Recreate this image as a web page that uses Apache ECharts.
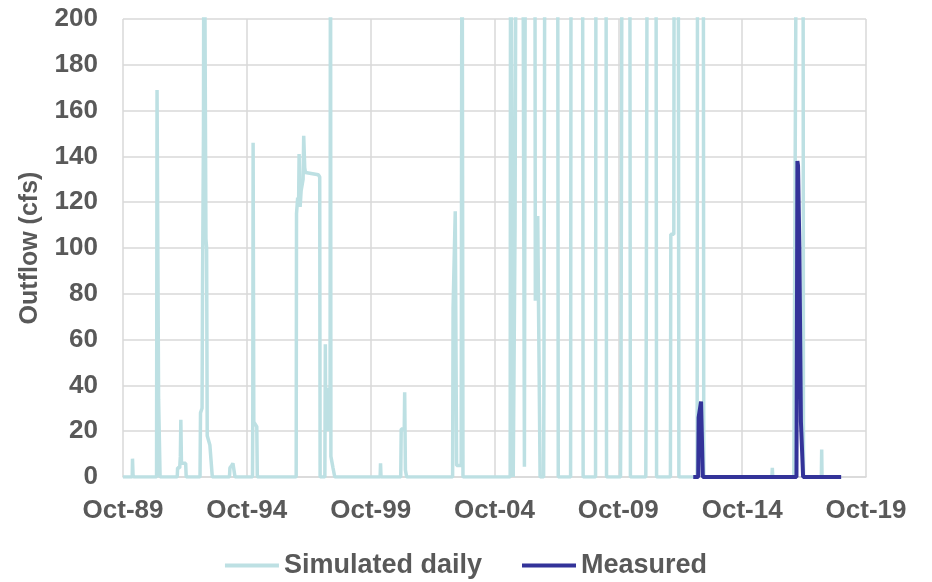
<!DOCTYPE html>
<html>
<head>
<meta charset="utf-8">
<script src="https://cdn.jsdelivr.net/npm/echarts@6/dist/echarts.min.js"></script>
<style>
html,body{margin:0;padding:0;background:#fff;}
#chart{width:932px;height:582px;}
</style>
</head>
<body>
<div id="chart"></div>
<script>
// X tick labels (every 5 years from Oct-89)
const xTickLabels = ['Oct-89','Oct-94','Oct-99','Oct-04','Oct-09','Oct-14','Oct-19'];
const yTicks = [0,20,40,60,80,100,120,140,160,180,200];

// Simulated daily outflow (cfs); values of 300 stand for peaks that run off the top of the chart
const simulated = [
  ['1989-10-01',0],
  ['1990-02-14',0],['1990-02-18',8],['1990-02-26',1],['1990-03-05',0],
  ['1991-02-08',0],['1991-02-15',169],['1991-03-10',34],['1991-03-25',34],['1991-04-01',0],
  ['1991-12-10',0],['1991-12-15',4],['1992-01-15',4],['1992-01-25',9],['1992-02-01',25],['1992-02-10',6],['1992-04-12',6],['1992-04-20',0],
  ['1992-11-10',0],['1992-11-17',28],['1992-12-10',30],['1992-12-17',83],['1992-12-31',152],['1993-01-08',300],['1993-01-25',300],['1993-02-05',104],['1993-02-15',100],['1993-02-24',18],['1993-04-04',14],['1993-05-10',0],
  ['1994-01-18',0],['1994-01-25',4],['1994-02-20',5],['1994-03-10',6],['1994-04-01',6],['1994-04-10',0],
  ['1994-12-24',0],['1994-12-28',27],['1995-01-02',146],['1995-01-12',24],['1995-02-25',22],['1995-03-05',0],
  ['1996-09-28',0],['1996-10-03',115],['1996-10-20',122],['1996-11-03',120],['1996-11-10',141],['1996-11-25',118],['1996-12-10',125],['1997-01-08',130],['1997-01-17',149],['1997-02-01',135],['1997-02-12',133],['1997-08-20',132],['1997-09-10',131],['1997-09-16',0],
  ['1997-11-25',0],['1997-12-02',58],['1997-12-08',20],['1997-12-20',27],['1998-01-10',39],['1998-01-25',20],['1998-02-10',40],['1998-02-16',300],['1998-02-22',9],['1998-03-10',9],['1998-03-25',4],['1998-04-10',4],['1998-04-20',0],
  ['2000-02-18',0],['2000-02-24',6],['2000-03-02',0],
  ['2000-12-18',0],['2000-12-25',21],['2001-02-08',21],['2001-02-14',37],['2001-02-25',3],['2001-03-15',0],
  ['2003-01-22',0],['2003-01-29',74],['2003-02-12',74],['2003-03-02',116],['2003-03-22',5],['2003-05-28',5],['2003-06-10',300],['2003-06-24',0],
  ['2005-05-20',0],['2005-05-26',300],['2005-06-24',300],['2005-07-04',0],
  ['2005-07-25',0],['2005-07-31',110],['2005-08-18',300],['2005-11-20',300],['2005-12-16',4.5],
  ['2006-01-01',300],['2006-05-18',300],['2006-05-26',77],['2006-06-30',114],['2006-08-04',0],
  ['2006-09-25',0],['2006-09-30',44],['2006-10-16',300],['2007-04-19',300],['2007-04-29',0],
  ['2007-10-28',0],['2007-11-05',300],['2008-04-20',300],['2008-04-30',0],
  ['2008-10-30',0],['2008-11-06',300],['2009-04-01',300],['2009-04-10',0],
  ['2009-11-02',0],['2009-11-09',35],['2009-11-28',300],['2010-03-18',300],['2010-03-28',0],
  ['2010-11-10',0],['2010-11-16',54],['2010-12-04',300],['2011-04-08',300],['2011-04-18',0],
  ['2011-11-08',0],['2011-11-14',106],['2011-12-28',106],['2012-01-04',300],['2012-03-01',300],['2012-03-12',0],
  ['2012-12-06',0],['2012-12-13',300],['2013-03-06',300],['2013-03-14',0],
  ['2015-12-14',0],['2015-12-20',4],['2015-12-26',0],
  ['2016-11-01',0],['2016-11-05',30],['2016-11-28',30],['2016-12-15',300],['2017-03-16',300],['2017-03-24',0],
  ['2017-12-12',0],['2017-12-17',12],['2017-12-22',0],
  ['2018-09-30',0]
];

// Measured outflow (cfs)
const measured = [
  ['2012-10-10',0],['2012-12-22',0],['2012-12-28',26],['2013-01-20',26],['2013-02-02',33],['2013-02-28',0],
  ['2016-12-10',0],['2016-12-24',138],['2017-01-02',136],['2017-01-22',100],['2017-02-05',100],['2017-02-14',24],['2017-03-10',24],['2017-03-18',0],
  ['2018-09-30',0]
];

const ORIGIN = Date.UTC(1989, 9, 1);
const YEAR_MS = 365.25 * 86400000;
function toYears(s) {
  const p = s.split('-').map(Number);
  return (Date.UTC(p[0], p[1] - 1, p[2]) - ORIGIN) / YEAR_MS;
}
const toData = arr => arr.map(d => [toYears(d[0]), d[1]]);

const FONT = '"Liberation Sans", Arial, sans-serif';
const GREY = '#595959';
const GRID = '#d9d9d9';

const chart = echarts.init(document.getElementById('chart'), null, {renderer: 'canvas'});
chart.setOption({
  animation: false,
  backgroundColor: '#ffffff',
  grid: {left: 123, right: 66, top: 19, bottom: 105},
  legend: {
    data: ['Simulated daily', 'Measured'],
    left: 'center',
    top: 547,
    icon: 'rect',
    itemWidth: 54,
    itemHeight: 4,
    itemGap: 40,
    textStyle: {color: GREY, fontSize: 27, fontWeight: 'bold', fontFamily: FONT}
  },
  xAxis: {
    type: 'value',
    min: 0,
    max: 30,
    interval: 5,
    axisLine: {show: true, lineStyle: {color: GRID, width: 1.5}},
    axisTick: {show: false},
    splitLine: {show: true, lineStyle: {color: GRID, width: 1.5}},
    axisLabel: {
      formatter: v => xTickLabels[Math.round(v / 5)] || '',
      color: GREY, fontSize: 26, fontWeight: 'bold', fontFamily: FONT, margin: 21
    }
  },
  yAxis: {
    type: 'value',
    min: yTicks[0],
    max: yTicks[yTicks.length - 1],
    interval: 20,
    name: 'Outflow (cfs)',
    nameLocation: 'middle',
    nameRotate: 90,
    nameGap: 80,
    nameTextStyle: {color: GREY, fontSize: 25, fontWeight: 'bold', fontFamily: FONT},
    axisLine: {show: false},
    axisTick: {show: false},
    splitLine: {show: true, lineStyle: {color: GRID, width: 1.5}},
    axisLabel: {color: GREY, fontSize: 26, fontWeight: 'bold', fontFamily: FONT, margin: 25}
  },
  series: [
    {
      name: 'Simulated daily',
      type: 'line',
      data: toData(simulated),
      symbol: 'none',
      clip: true,
      lineStyle: {color: '#bde0e3', width: 3.5},
      itemStyle: {color: '#bde0e3'}
    },
    {
      name: 'Measured',
      type: 'line',
      data: toData(measured),
      symbol: 'none',
      clip: true,
      lineStyle: {color: '#333399', width: 4},
      itemStyle: {color: '#333399'}
    }
  ]
});
</script>
</body>
</html>
